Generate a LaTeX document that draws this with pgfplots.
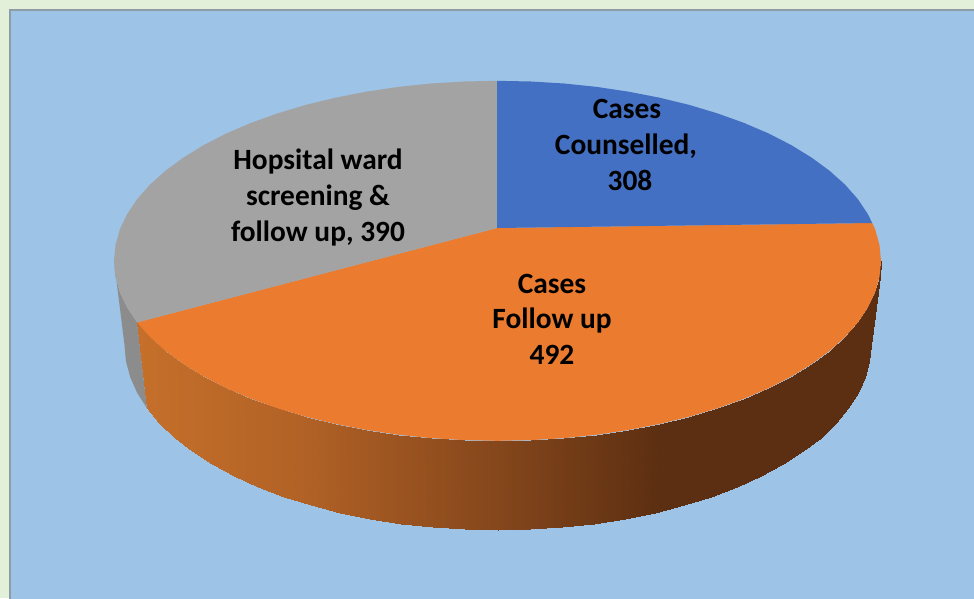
\documentclass[border=0pt]{standalone}
\usepackage{pgfplots}
\pgfplotsset{compat=1.18}
\usepackage{fontspec}
\setmainfont{Carlito}
\definecolor{outerbg}{HTML}{E2EFD9}
\definecolor{innerbg}{HTML}{9DC3E6}
\definecolor{edge}{HTML}{8F9CA5}
\definecolor{pieblue}{HTML}{4370C2}
\definecolor{pieorange}{HTML}{EB7B2F}
\definecolor{piegray}{HTML}{A3A3A3}
\definecolor{sidegray}{HTML}{8C8C8C}
\newcommand{\lab}[3]{\node[anchor=base,inner sep=0pt,font=\fontsize{29.4}{34}\selectfont\bfseries] at (axis cs:#1,#2) {#3};}
\begin{document}
\begin{tikzpicture}
\begin{axis}[
    scale only axis,
    width=974pt, height=598pt,
    xmin=0, xmax=974, ymin=0, ymax=598,
    y dir=reverse,
    hide axis,
    colormap={sidemap}{rgb255(0cm)=(200,113,43) rgb255(1.86cm)=(178,98,38) rgb255(3.86cm)=(132,70,27) rgb255(5.46cm)=(92,47,18) rgb255(7.67cm)=(92,47,18)},
    point meta min=114, point meta max=881,
]
% backgrounds
\addplot[fill=outerbg, draw=none] coordinates {(0,0) (974,0) (974,598) (0,598)} -- cycle;
\addplot[fill=innerbg, draw=edge, line width=2pt] coordinates {(10,10) (985,10) (985,610) (10,610)} -- cycle;

% gray side wall
\addplot[fill=sidegray, draw=none] coordinates {
 (137.1,322.4) (127.1,307.4) (119.8,292.1) (115.5,276.5) (114.0,260.8)
 (124.5,345.0) (125.9,361.1) (130.2,377.1) (137.2,392.9) (147.0,408.3)} -- cycle;

% orange side wall, upper edge then lower edge, shaded left to right
\addplot[surf, shader=interp, mesh/rows=2, point meta=x] table {
x y
881.0 260.8
879.5 276.5
875.2 292.1
867.9 307.4
857.9 322.4
845.1 336.9
829.6 350.8
811.6 364.0
791.3 376.5
768.7 388.1
744.0 398.7
717.5 408.2
689.3 416.7
659.6 423.9
628.7 429.9
596.8 434.7
564.1 438.1
530.9 440.1
497.5 440.8
464.1 440.1
430.9 438.1
398.2 434.7
366.3 429.9
335.4 423.9
305.7 416.7
277.5 408.2
251.0 398.7
226.3 388.1
203.7 376.5
183.4 364.0
165.4 350.8
149.9 336.9
137.1 322.4
870.5 345.0
869.1 361.1
864.8 377.1
857.8 392.9
848.0 408.3
835.6 423.2
820.5 437.5
803.0 451.1
783.2 463.9
761.3 475.8
737.3 486.7
711.4 496.5
684.0 505.2
655.1 512.7
625.1 518.8
594.0 523.7
562.3 527.2
530.0 529.3
497.5 530.0
465.0 529.3
432.7 527.2
401.0 523.7
369.9 518.8
339.9 512.7
311.0 505.2
283.6 496.5
257.7 486.7
233.7 475.8
211.8 463.9
192.0 451.1
174.5 437.5
159.4 423.2
147.0 408.3
};

% top face: 492 orange
\addplot[fill=pieorange, draw=none] coordinates {
 (497,228) (872.2,223) (875.2,229.5) (879.5,245.1) (881.0,260.8) (879.5,276.5) (875.2,292.1) (867.9,307.4)
 (857.9,322.4) (845.1,336.9) (829.6,350.8) (811.6,364.0) (791.3,376.5) (768.7,388.1) (744.0,398.7)
 (717.5,408.2) (689.3,416.7) (659.6,423.9) (628.7,429.9) (596.8,434.7) (564.1,438.1) (530.9,440.1)
 (497.5,440.8) (464.1,440.1) (430.9,438.1) (398.2,434.7) (366.3,429.9) (335.4,423.9) (305.7,416.7)
 (277.5,408.2) (251.0,398.7) (226.3,388.1) (203.7,376.5) (183.4,364.0) (165.4,350.8) (149.9,336.9)
 (137.1,322.4)} -- cycle;
% top face: 390 gray
\addplot[fill=piegray, draw=none] coordinates {
 (497,228) (137.1,322.4) (127.1,307.4) (119.8,292.1) (115.5,276.5) (114.0,260.8) (115.5,245.1) (119.8,229.5)
 (127.1,214.2) (137.1,199.2) (149.9,184.7) (165.4,170.8) (183.4,157.6) (203.7,145.1) (226.3,133.5)
 (251.0,122.9) (277.5,113.4) (305.7,104.9) (335.4,97.7) (366.3,91.7) (398.2,86.9) (430.9,83.5)
 (464.1,81.5) (497,80.8)} -- cycle;
% top face: 308 blue
\addplot[fill=pieblue, draw=none] coordinates {
 (497,228) (497,80.8) (530.9,81.5) (564.1,83.5) (596.8,86.9) (628.7,91.7) (659.6,97.7) (689.3,104.9)
 (717.5,113.4) (744.0,122.9) (768.7,133.5) (791.3,145.1) (811.6,157.6) (829.6,170.8) (845.1,184.7)
 (857.9,199.2) (867.9,214.2) (872.2,223)} -- cycle;

\lab{627}{118.5}{Cases}
\lab{626}{154.5}{Counselled,}
\lab{630}{190.5}{308}
\lab{318}{169.5}{Hopsital ward}
\lab{318}{205.5}{screening \&}
\lab{318}{241.5}{follow up, 390}
\lab{552}{293.5}{Cases}
\lab{552}{328.5}{Follow up}
\lab{552}{364.5}{492}
\end{axis}
\end{tikzpicture}
\end{document}
